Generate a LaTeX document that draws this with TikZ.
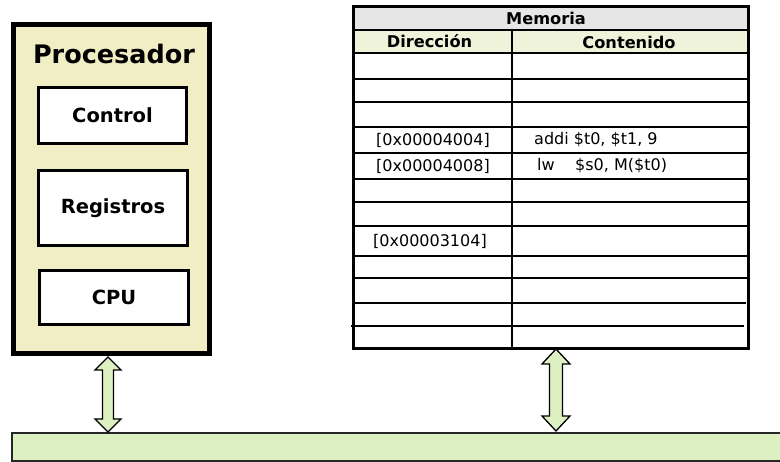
\documentclass[tikz,border=0pt]{standalone}
\usepackage{fontspec}
\setmainfont{DejaVu Sans}
\usetikzlibrary{calc}

\definecolor{procfill}{HTML}{F1EDC4}
\definecolor{headgray}{HTML}{E6E6E6}
\definecolor{headgreen}{HTML}{EEF3D9}
\definecolor{busgreen}{HTML}{DDF0C1}

\tikzset{
  procbox/.style={draw=black, line width=4.5pt, fill=procfill, rectangle, inner sep=0pt},
  unitbox/.style={draw=black, line width=3pt, fill=white, rectangle, inner sep=0pt,
    font=\fontsize{19.5}{23}\selectfont\bfseries},
  tabline/.style={draw=black, line width=2.6pt},
  headtxt/.style={inner sep=0pt, font=\fontsize{16.2}{19}\selectfont\bfseries},
  celltxt/.style={inner sep=0pt, font=\fontsize{16}{19}\selectfont},
  busarrow/.style={draw=black, line width=1.3pt, fill=busgreen, line join=miter},
  busbar/.style={draw=black!85, line width=2.6pt, fill=busgreen}
}

% vertical double-headed arrow between two named points
% #1 top point, #2 bottom point, #3 head half width, #4 shaft half width, #5 head length
\newcommand\dblarrow[5]{%
  \path[busarrow] let \p1=(#1), \p2=(#2) in
    (\x1,\y1) -- (\x1+#3,\y1-#5) -- (\x1+#4,\y1-#5) -- (\x1+#4,\y2+#5)
    -- (\x1+#3,\y2+#5) -- (\x1,\y2) -- (\x1-#3,\y2+#5) -- (\x1-#4,\y2+#5)
    -- (\x1-#4,\y1-#5) -- (\x1-#3,\y1-#5) -- cycle;
}

\begin{document}
\begin{tikzpicture}[x=1pt,y=-1pt]
\useasboundingbox (0,0) rectangle (780,462);

% processor block
\node[procbox, minimum width=196pt, minimum height=329pt] (proc) at (111.5,189) {};
\node[inner sep=0pt, font=\fontsize{25.5}{30}\selectfont\bfseries] (proctitle) at (114,54) {Procesador};
\node[unitbox, minimum width=148pt, minimum height=56pt] (ctrl) at (112.5,115.5) {Control};
\node[unitbox, minimum width=149pt, minimum height=75pt] (regs) at (113,208) {Registros};
\node[unitbox, minimum width=149pt, minimum height=54pt] (cpu) at (114,297.5) {CPU};

% memory table
\fill[headgray] (353,7) rectangle (748,30);
\fill[headgreen] (353,30) rectangle (748,53);
\fill[white] (353,53) rectangle (748,349);
\foreach \yy in {30,53,79,102,127,153,179,202,226,256,278} {
  \draw[tabline] (353,\yy) -- (748,\yy);
}
\draw[tabline] (353,303) -- (746,303);
\draw[tabline] (351,326) -- (744,326);
\draw[tabline] (512,30) -- (512,349);
\node[draw=black, line width=3pt, rectangle, inner sep=0pt,
      minimum width=395pt, minimum height=342pt] (mem) at (550.5,178) {};

\node[headtxt] (memtitle) at (546,18) {Memoria};
\node[headtxt] (coladdr) at (429.5,41) {Dirección};
\node[headtxt] (colcont) at (629,42) {Contenido};

\node[celltxt] (addr1) at (433,140) {[0x00004004]};
\node[celltxt, anchor=west] (inst1) at (534,140) {addi \$t0, \$t1, 9};
\node[celltxt] (addr2) at (433,166) {[0x00004008]};
\node[celltxt, anchor=west] (inst2) at (537,166) {lw\hspace{20.5pt}\$s0, M(\$t0)};
\node[celltxt] (addr3) at (430,241) {[0x00003104]};

% system bus
\path[busbar] (12,433) rectangle (792,461);
\coordinate (bus) at (12,433);

% links to the bus
\coordinate (procport) at (108,357);
\coordinate (busport1) at (108,432);
\coordinate (memport) at (556,349);
\coordinate (busport2) at (556,431);
\dblarrow{procport}{busport1}{13pt}{5.5pt}{13pt}
\dblarrow{memport}{busport2}{14pt}{6.5pt}{15pt}
\end{tikzpicture}
\end{document}
